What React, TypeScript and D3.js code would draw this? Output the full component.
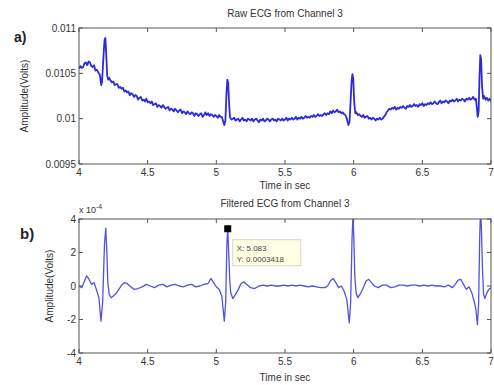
import React from "react";
import * as d3 from "d3";

// raw ECG, channel 3: [time s, volts]
const rawEcg: [number, number][] = [
  [4.0, 0.01055], [4.01, 0.01058], [4.02, 0.01056], [4.03, 0.01057], [4.04, 0.01061], [4.05, 0.01062],
  [4.06, 0.01059], [4.07, 0.01063], [4.08, 0.01062], [4.09, 0.01058], [4.1, 0.01057], [4.11, 0.01059],
  [4.12, 0.01053], [4.13, 0.01054], [4.14, 0.01051], [4.15, 0.01049], [4.155, 0.01045], [4.162, 0.01037],
  [4.168, 0.01041], [4.178, 0.01068], [4.186, 0.01087], [4.192, 0.01089], [4.198, 0.01072], [4.205, 0.01048],
  [4.212, 0.01043], [4.22, 0.01045], [4.23, 0.01042], [4.24, 0.0104], [4.25, 0.01041], [4.26, 0.01037],
  [4.27, 0.01038], [4.28, 0.01038], [4.29, 0.01034], [4.3, 0.01035], [4.31, 0.01033], [4.32, 0.01034],
  [4.33, 0.0103], [4.34, 0.01031], [4.35, 0.01029], [4.36, 0.0103], [4.37, 0.01026], [4.38, 0.01028],
  [4.39, 0.01027], [4.4, 0.01024], [4.41, 0.01026], [4.42, 0.01025], [4.43, 0.01021], [4.44, 0.01023],
  [4.45, 0.01024], [4.46, 0.0102], [4.47, 0.01021], [4.48, 0.01019], [4.49, 0.01022], [4.5, 0.01018],
  [4.51, 0.01019], [4.52, 0.01017], [4.53, 0.01019], [4.54, 0.01015], [4.55, 0.01016], [4.56, 0.01017],
  [4.57, 0.01013], [4.58, 0.01015], [4.59, 0.01014], [4.6, 0.01012], [4.61, 0.01015], [4.62, 0.01013],
  [4.63, 0.01011], [4.64, 0.01012], [4.65, 0.01013], [4.66, 0.01009], [4.67, 0.01011], [4.68, 0.0101],
  [4.69, 0.01008], [4.7, 0.01011], [4.71, 0.01009], [4.72, 0.01007], [4.73, 0.01009], [4.74, 0.0101],
  [4.75, 0.01006], [4.76, 0.01008], [4.77, 0.01007], [4.78, 0.01005], [4.79, 0.01008], [4.8, 0.01006],
  [4.81, 0.01005], [4.82, 0.01007], [4.83, 0.01006], [4.84, 0.01003], [4.85, 0.01006], [4.86, 0.01005],
  [4.87, 0.01003], [4.88, 0.01005], [4.89, 0.01006], [4.9, 0.01002], [4.91, 0.01004], [4.92, 0.01007],
  [4.93, 0.01004], [4.94, 0.01006], [4.95, 0.01003], [4.96, 0.01005], [4.97, 0.01004], [4.98, 0.01002],
  [4.99, 0.01004], [5.0, 0.01003], [5.01, 0.01001], [5.02, 0.01004], [5.03, 0.01002], [5.04, 0.01002],
  [5.05, 0.00997], [5.058, 0.00993], [5.066, 0.00998], [5.074, 0.01028], [5.08, 0.01043], [5.086, 0.0104],
  [5.094, 0.01014], [5.1, 0.01001], [5.11, 0.00999], [5.12, 0.01], [5.13, 0.01001], [5.14, 0.00998],
  [5.15, 0.00999], [5.16, 0.01], [5.17, 0.00997], [5.18, 0.00999], [5.19, 0.01001], [5.2, 0.00998],
  [5.21, 0.00999], [5.22, 0.00997], [5.23, 0.01], [5.24, 0.00999], [5.25, 0.00998], [5.26, 0.01],
  [5.27, 0.00997], [5.28, 0.00999], [5.29, 0.01], [5.3, 0.00998], [5.31, 0.00996], [5.32, 0.00999],
  [5.33, 0.00998], [5.34, 0.01], [5.35, 0.00997], [5.36, 0.00998], [5.37, 0.01], [5.38, 0.00999],
  [5.39, 0.00997], [5.4, 0.00999], [5.41, 0.01], [5.42, 0.00998], [5.43, 0.00999], [5.44, 0.00997],
  [5.45, 0.01], [5.46, 0.00999], [5.47, 0.00998], [5.48, 0.01], [5.49, 0.00998], [5.5, 0.00999],
  [5.51, 0.01001], [5.52, 0.00998], [5.53, 0.01], [5.54, 0.00999], [5.55, 0.01001], [5.56, 0.00999],
  [5.57, 0.01], [5.58, 0.01002], [5.59, 0.00999], [5.6, 0.01001], [5.61, 0.01], [5.62, 0.01002],
  [5.63, 0.01], [5.64, 0.01001], [5.65, 0.01003], [5.66, 0.01001], [5.67, 0.01002], [5.68, 0.01001],
  [5.69, 0.01003], [5.7, 0.01002], [5.71, 0.01004], [5.72, 0.01002], [5.73, 0.01003], [5.74, 0.01005],
  [5.75, 0.01003], [5.76, 0.01004], [5.77, 0.01003], [5.78, 0.01005], [5.79, 0.01006], [5.8, 0.01004],
  [5.81, 0.01006], [5.82, 0.01005], [5.83, 0.01008], [5.84, 0.01006], [5.85, 0.01009], [5.86, 0.01007],
  [5.87, 0.01008], [5.88, 0.0101], [5.89, 0.01007], [5.9, 0.01008], [5.91, 0.01006], [5.92, 0.01007],
  [5.93, 0.01005], [5.94, 0.01004], [5.95, 0.01], [5.962, 0.00993], [5.97, 0.00997], [5.978, 0.0102],
  [5.985, 0.01042], [5.991, 0.01049], [5.997, 0.01044], [6.004, 0.01018], [6.012, 0.01006], [6.02, 0.01007],
  [6.03, 0.01004], [6.04, 0.01005], [6.05, 0.01003], [6.06, 0.01002], [6.07, 0.01004], [6.08, 0.01001],
  [6.09, 0.01002], [6.1, 0.01003], [6.11, 0.01], [6.12, 0.01001], [6.13, 0.00999], [6.14, 0.01001],
  [6.15, 0.01], [6.16, 0.00998], [6.17, 0.01], [6.18, 0.00999], [6.19, 0.01001], [6.2, 0.00999],
  [6.21, 0.01], [6.22, 0.01002], [6.23, 0.01004], [6.24, 0.01007], [6.25, 0.01009], [6.26, 0.01011],
  [6.27, 0.0101], [6.28, 0.01012], [6.29, 0.01011], [6.3, 0.01013], [6.31, 0.0101], [6.32, 0.01012],
  [6.33, 0.01011], [6.34, 0.01013], [6.35, 0.01012], [6.36, 0.01014], [6.37, 0.01012], [6.38, 0.01011],
  [6.39, 0.01014], [6.4, 0.01013], [6.41, 0.01015], [6.42, 0.01013], [6.43, 0.01014], [6.44, 0.01016],
  [6.45, 0.01014], [6.46, 0.01015], [6.47, 0.01013], [6.48, 0.01016], [6.49, 0.01015], [6.5, 0.01017],
  [6.51, 0.01014], [6.52, 0.01016], [6.53, 0.01015], [6.54, 0.01017], [6.55, 0.01016], [6.56, 0.01018],
  [6.57, 0.01016], [6.58, 0.01017], [6.59, 0.01019], [6.6, 0.01017], [6.61, 0.01016], [6.62, 0.01018],
  [6.63, 0.0102], [6.64, 0.01017], [6.65, 0.01019], [6.66, 0.01018], [6.67, 0.0102], [6.68, 0.01019],
  [6.69, 0.01017], [6.7, 0.0102], [6.71, 0.01019], [6.72, 0.01021], [6.73, 0.01019], [6.74, 0.0102],
  [6.75, 0.01022], [6.76, 0.01019], [6.77, 0.01021], [6.78, 0.0102], [6.79, 0.01022], [6.8, 0.01021],
  [6.81, 0.01019], [6.82, 0.01022], [6.83, 0.01021], [6.84, 0.01023], [6.85, 0.01021], [6.86, 0.01022],
  [6.87, 0.01024], [6.88, 0.01021], [6.89, 0.01022], [6.897, 0.01012], [6.903, 0.01002], [6.91, 0.01008],
  [6.916, 0.01045], [6.922, 0.0107], [6.928, 0.01066], [6.935, 0.01035], [6.943, 0.01022], [6.95, 0.01025],
  [6.96, 0.01021], [6.97, 0.01023], [6.98, 0.0102], [6.99, 0.01022], [7.0, 0.01019],
];

// filtered ECG, channel 3: [time s, volts x 1e4]
const filteredEcg: [number, number][] = [
  [4.0, 0.0], [4.02, -0.1], [4.04, 0.3], [4.055, 0.6], [4.07, 0.45], [4.09, 0.1], [4.11, 0.2], [4.13, -0.3],
  [4.145, -0.7], [4.16, -2.1], [4.172, -1.0], [4.186, 2.6], [4.195, 3.45], [4.203, 2.0], [4.21, 0.2],
  [4.22, -0.5], [4.235, -0.7], [4.25, -0.6], [4.27, -0.45], [4.29, -0.2], [4.31, 0.05], [4.33, 0.2],
  [4.35, 0.15], [4.37, 0.0], [4.4, -0.2], [4.43, -0.15], [4.46, -0.05], [4.49, 0.1], [4.52, 0.0],
  [4.55, -0.1], [4.58, 0.05], [4.61, 0.1], [4.64, -0.05], [4.67, 0.05], [4.7, 0.1], [4.73, 0.0],
  [4.76, -0.05], [4.79, 0.05], [4.82, 0.1], [4.85, -0.05], [4.88, 0.0], [4.91, 0.1], [4.94, 0.15],
  [4.96, 0.45], [4.98, 0.2], [5.0, -0.05], [5.02, -0.2], [5.04, -0.6], [5.058, -2.1], [5.068, -1.0],
  [5.077, 2.6], [5.083, 3.418], [5.09, 2.0], [5.098, 0.3], [5.105, -0.4], [5.12, -0.75], [5.14, -0.5],
  [5.16, -0.2], [5.18, 0.15], [5.2, 0.25], [5.22, 0.1], [5.25, -0.1], [5.28, -0.15], [5.31, 0.0],
  [5.34, 0.05], [5.37, 0.0], [5.4, 0.05], [5.43, 0.0], [5.46, 0.0], [5.49, 0.05], [5.52, 0.0],
  [5.55, 0.05], [5.58, 0.0], [5.61, 0.05], [5.64, 0.0], [5.67, -0.05], [5.7, 0.0], [5.73, -0.05],
  [5.76, -0.1], [5.79, -0.1], [5.81, 0.0], [5.83, 0.3], [5.85, 0.45], [5.87, 0.2], [5.89, -0.1],
  [5.91, 0.0], [5.93, -0.3], [5.95, -0.8], [5.968, -2.2], [5.978, -1.0], [5.988, 2.8], [5.995, 4.2],
  [6.001, 3.0], [6.008, 0.6], [6.018, -0.4], [6.03, -0.7], [6.05, -0.45], [6.07, -0.1], [6.09, 0.3],
  [6.11, 0.4], [6.13, 0.2], [6.15, 0.0], [6.18, -0.1], [6.21, 0.05], [6.24, 0.05], [6.27, -0.1],
  [6.3, -0.05], [6.33, 0.05], [6.36, 0.05], [6.39, 0.0], [6.42, 0.05], [6.45, 0.05], [6.48, 0.0],
  [6.51, 0.05], [6.54, 0.0], [6.57, 0.05], [6.6, 0.0], [6.63, 0.0], [6.66, -0.05], [6.69, 0.05],
  [6.72, -0.1], [6.74, 0.1], [6.76, 0.35], [6.78, 0.4], [6.8, 0.1], [6.82, -0.2], [6.84, -0.05],
  [6.86, -0.4], [6.88, -1.0], [6.89, -1.4], [6.901, -2.3], [6.91, -1.0], [6.918, 3.0], [6.924, 4.5],
  [6.93, 3.5], [6.938, 1.0], [6.946, -0.5], [6.955, -0.75], [6.97, -0.4], [6.985, -0.2], [7.0, -0.1],
];

const timeTicks = [4, 4.5, 5, 5.5, 6, 6.5, 7];
const rawTicks = [0.0095, 0.01, 0.0105, 0.011];
const filteredTicks = [-4, -2, 0, 2, 4];
const dataTip = { x: 5.083, y: 3.418 };

const W = 494;
const H = 385;
const left = 79;
const right = 491;
const font = "'Liberation Sans', Arial, sans-serif";
const ink = "#333";

function Frame({ x, y, ticksX, ticksY }: any) {
  const [y0, y1] = y.range();
  const [x0, x1] = x.range();
  const tl = 4;
  return (
    <g>
      <rect x={x0} y={y1} width={x1 - x0} height={y0 - y1} fill="none" stroke="#555" strokeWidth={1} />
      {ticksX.map((t: number) => (
        <g key={"x" + t}>
          <line x1={x(t)} x2={x(t)} y1={y0} y2={y0 - tl} stroke="#555" />
          <line x1={x(t)} x2={x(t)} y1={y1} y2={y1 + tl} stroke="#555" />
          <text x={x(t)} y={y0 + 12} textAnchor="middle" fontSize={10} fill={ink} fontFamily={font}>
            {t}
          </text>
        </g>
      ))}
      {ticksY.map((t: number) => (
        <g key={"y" + t}>
          <line x1={x0} x2={x0 + tl} y1={y(t)} y2={y(t)} stroke="#555" />
          <line x1={x1} x2={x1 - tl} y1={y(t)} y2={y(t)} stroke="#555" />
          <text x={x0 - 3} y={y(t) + 3.5} textAnchor="end" fontSize={10} fill={ink} fontFamily={font}>
            {t}
          </text>
        </g>
      ))}
    </g>
  );
}

export default function App() {
  const x = d3.scaleLinear().domain([4, 7]).range([left, right]);
  const yRaw = d3.scaleLinear().domain([0.0095, 0.011]).range([164, 28]);
  const yFilt = d3.scaleLinear().domain([-4, 4]).range([353, 219]);

  const rawLine = d3.line<[number, number]>().x((d) => x(d[0])).y((d) => yRaw(d[1]));
  const filtLine = d3.line<[number, number]>().x((d) => x(d[0])).y((d) => yFilt(d[1]));

  const tx = x(dataTip.x);
  const ty = yFilt(dataTip.y);
  const mid = (left + right) / 2;

  return (
    <svg width={W} height={H} style={{ position: "absolute", left: 0, top: 0, background: "#fff" }}>
      <defs>
        <clipPath id="c1">
          <rect x={left} y={28} width={right - left} height={136} />
        </clipPath>
        <clipPath id="c2">
          <rect x={left} y={219} width={right - left} height={134} />
        </clipPath>
      </defs>

      {/* a) raw */}
      <text x={mid} y={17} textAnchor="middle" fontSize={10} fill={ink} fontFamily={font}>
        Raw ECG from Channel 3
      </text>
      <path d={rawLine(rawEcg) || ""} fill="none" stroke="#2b2bd8" strokeWidth={1.8} strokeLinejoin="round" clipPath="url(#c1)" />
      <Frame x={x} y={yRaw} ticksX={timeTicks} ticksY={rawTicks} />
      <text x={mid} y={189} textAnchor="middle" fontSize={10} fill={ink} fontFamily={font}>
        Time in sec
      </text>
      <text transform={`translate(28,${(28 + 164) / 2}) rotate(-90)`} textAnchor="middle" fontSize={10} fill={ink} fontFamily={font}>
        Amplitude(Volts)
      </text>
      <text x={14} y={42} fontSize={14} fontWeight="bold" fill="#222" fontFamily={font}>
        a)
      </text>

      {/* b) filtered */}
      <text x={mid} y={207} textAnchor="middle" fontSize={10} fill={ink} fontFamily={font}>
        Filtered ECG from Channel 3
      </text>
      <path d={filtLine(filteredEcg) || ""} fill="none" stroke="#5252e0" strokeWidth={1.3} strokeLinejoin="round" clipPath="url(#c2)" />
      <Frame x={x} y={yFilt} ticksX={timeTicks} ticksY={filteredTicks} />
      <text x={mid} y={381} textAnchor="middle" fontSize={10} fill={ink} fontFamily={font}>
        Time in sec
      </text>
      <text transform={`translate(53,${(219 + 353) / 2}) rotate(-90)`} textAnchor="middle" fontSize={10} fill={ink} fontFamily={font}>
        Amplitude(Volts)
      </text>
      <text x={79} y={213} fontSize={9} fill={ink} fontFamily={font}>
        x 10
        <tspan dy={-4} fontSize={7}>-4</tspan>
      </text>
      <text x={20} y={239} fontSize={15} fontWeight="bold" fill="#222" fontFamily={font}>
        b)
      </text>

      {/* data tip */}
      <rect x={tx - 3.5} y={ty - 3.5} width={7} height={7} fill="#000" />
      <rect x={tx + 5} y={ty + 11} width={68} height={26} fill="#ffffe6" stroke="#d8d8c0" strokeWidth={1} />
      <text x={tx + 9} y={ty + 22} fontSize={8} fill="#444" fontFamily={font}>
        X: {dataTip.x}
      </text>
      <text x={tx + 9} y={ty + 33} fontSize={8} fill="#444" fontFamily={font}>
        Y: {(dataTip.y * 1e-4).toFixed(7)}
      </text>
    </svg>
  );
}
